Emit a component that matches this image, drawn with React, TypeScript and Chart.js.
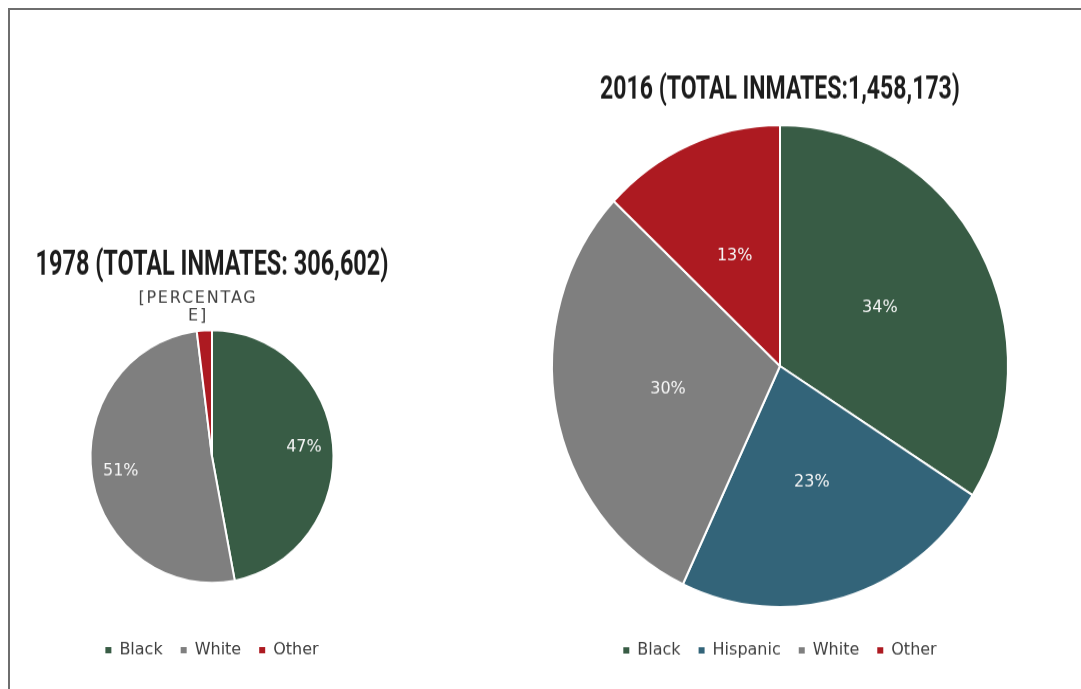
import React, { useEffect, useRef } from 'react';
import { Chart, registerables } from 'chart.js';

Chart.register(...registerables);

// ---------- data ----------
const categories1978 = ['Black', 'White', 'Other'];
const values1978 = [47, 51, 2];
const sliceLabels1978 = ['47%', '51%', '[PERCENTAGE]'];
const title1978 = '1978 (TOTAL INMATES: 306,602)';

const categories2016 = ['Black', 'Hispanic', 'White', 'Other'];
const values2016 = [34, 23, 30, 13];
const sliceLabels2016 = ['34%', '23%', '30%', '13%'];
const title2016 = '2016 (TOTAL INMATES:1,458,173)';

const colorByCategory: Record<string, string> = {
  Black: '#385c45',
  Hispanic: '#336479',
  White: '#7f7f7f',
  Other: '#ad1a21',
};

// ---------- plugins ----------
const makeTitlePlugin = (text: string, baseline: number, size: number, scaleX: number) => ({
  id: 'condensedTitle',
  afterDraw(chart: any) {
    const { ctx, chartArea } = chart;
    const cx = (chartArea.left + chartArea.right) / 2;
    ctx.save();
    ctx.translate(cx, baseline);
    ctx.scale(scaleX, 1);
    ctx.font = `bold ${size}px Roboto, "Liberation Sans", sans-serif`;
    ctx.fillStyle = '#1c1c1c';
    ctx.textAlign = 'center';
    ctx.textBaseline = 'alphabetic';
    ctx.fillText(text, 0, 0);
    ctx.restore();
  },
});

const makeSliceLabelPlugin = (texts: string[], factor: number) => ({
  id: 'sliceLabels',
  afterDatasetsDraw(chart: any) {
    const ctx = chart.ctx;
    const meta = chart.getDatasetMeta(0);
    const data: number[] = chart.data.datasets[0].data;
    const total = data.reduce((a, b) => a + b, 0);
    meta.data.forEach((el: any, i: number) => {
      const p = el.getProps(['x', 'y', 'startAngle', 'endAngle', 'outerRadius'], true);
      const mid = (p.startAngle + p.endAngle) / 2;
      const share = data[i] / total;
      ctx.save();
      ctx.textAlign = 'center';
      ctx.textBaseline = 'middle';
      if (share < 0.05) {
        // small slice: label outside, wrapped like the original
        const d = p.outerRadius + 22.5;
        const lx = p.x + Math.cos(mid) * d - 5;
        const ly = p.y + Math.sin(mid) * d;
        const lines = texts[i].match(/.{1,10}/g) || [texts[i]];
        ctx.font = '16px "DejaVu Sans", sans-serif';
        (ctx as any).letterSpacing = '1.8px';
        ctx.fillStyle = '#404040';
        const lh = 17;
        lines.forEach((line, k) => {
          ctx.fillText(line, lx, ly + (k - (lines.length - 1) / 2) * lh);
        });
      } else {
        const d = p.outerRadius * factor;
        const lx = p.x + Math.cos(mid) * d;
        const ly = p.y + Math.sin(mid) * d;
        ctx.font = '16px "DejaVu Sans", sans-serif';
        ctx.fillStyle = '#f7f7f7';
        ctx.fillText(texts[i], lx, ly);
      }
      ctx.restore();
    });
  },
});

const legendGenerate = (chart: any) => {
  const base = (Chart as any).overrides.pie.plugins.legend.labels.generateLabels(chart);
  return base.map((item: any) => ({ ...item, lineWidth: 0, strokeStyle: item.fillStyle }));
};

type PieProps = {
  categories: string[];
  values: number[];
  sliceLabels: string[];
  title: string;
  left: number;
  top: number;
  width: number;
  height: number;
  stretchY: number;
  radius: number;
  padTop: number;
  padBottom: number;
  titleBaseline: number;
  titleSize: number;
  titleScaleX: number;
  labelFactor: number;
};

function PieChart(props: PieProps) {
  const ref = useRef<HTMLCanvasElement | null>(null);
  useEffect(() => {
    if (!ref.current) return;
    const chart = new Chart(ref.current, {
      type: 'pie',
      data: {
        labels: props.categories,
        datasets: [
          {
            data: props.values,
            backgroundColor: props.categories.map((c) => colorByCategory[c]),
            borderColor: '#ffffff',
            borderWidth: 2,
            radius: props.radius,
            hoverOffset: 0,
          } as any,
        ],
      },
      options: {
        animation: false,
        responsive: false,
        events: [],
        layout: { padding: { top: props.padTop, bottom: props.padBottom, left: 0, right: 0 } },
        plugins: {
          title: { display: false },
          tooltip: { enabled: false },
          legend: {
            position: 'bottom',
            labels: {
              usePointStyle: true,
              pointStyle: 'rect',
              boxWidth: 6,
              boxHeight: 6,
              padding: 18,
              color: '#404040',
              font: { family: '"DejaVu Sans", sans-serif', size: 16 },
              generateLabels: legendGenerate,
            },
          },
        },
      } as any,
      plugins: [
        makeTitlePlugin(props.title, props.titleBaseline, props.titleSize, props.titleScaleX),
        makeSliceLabelPlugin(props.sliceLabels, props.labelFactor),
      ],
    });
    return () => chart.destroy();
  }, []);
  return (
    <div
      style={{
        position: 'absolute',
        left: props.left,
        top: props.top,
        width: props.width,
        height: props.height,
        transform: `scaleY(${props.stretchY})`,
        transformOrigin: 'top left',
      }}
    >
      <canvas ref={ref} width={props.width} height={props.height} style={{ display: 'block' }} />
    </div>
  );
}

export default function App() {
  return (
    <div style={{ position: 'fixed', inset: 0, overflow: 'hidden', background: '#ffffff' }}>
      <div
        style={{
          position: 'absolute',
          left: 8,
          top: 8,
          width: 1200,
          height: 800,
          borderTop: '2px solid #6e6e6e',
          borderLeft: '2px solid #6e6e6e',
        }}
      />
      <PieChart
        categories={categories1978}
        values={values1978}
        sliceLabels={sliceLabels1978}
        title={title1978}
        left={12}
        top={230}
        width={400}
        height={432}
        stretchY={1.04}
        radius={121.5}
        padTop={57.6}
        padBottom={10}
        titleBaseline={43.3}
        titleSize={34}
        titleScaleX={0.69}
        labelFactor={0.76}
      />
      <PieChart
        categories={categories2016}
        values={values2016}
        sliceLabels={sliceLabels2016}
        title={title2016}
        left={530}
        top={50}
        width={500}
        height={596}
        stretchY={1.057}
        radius={228}
        padTop={56}
        padBottom={10}
        titleBaseline={46.4}
        titleSize={32}
        titleScaleX={0.72}
        labelFactor={0.5}
      />
    </div>
  );
}
